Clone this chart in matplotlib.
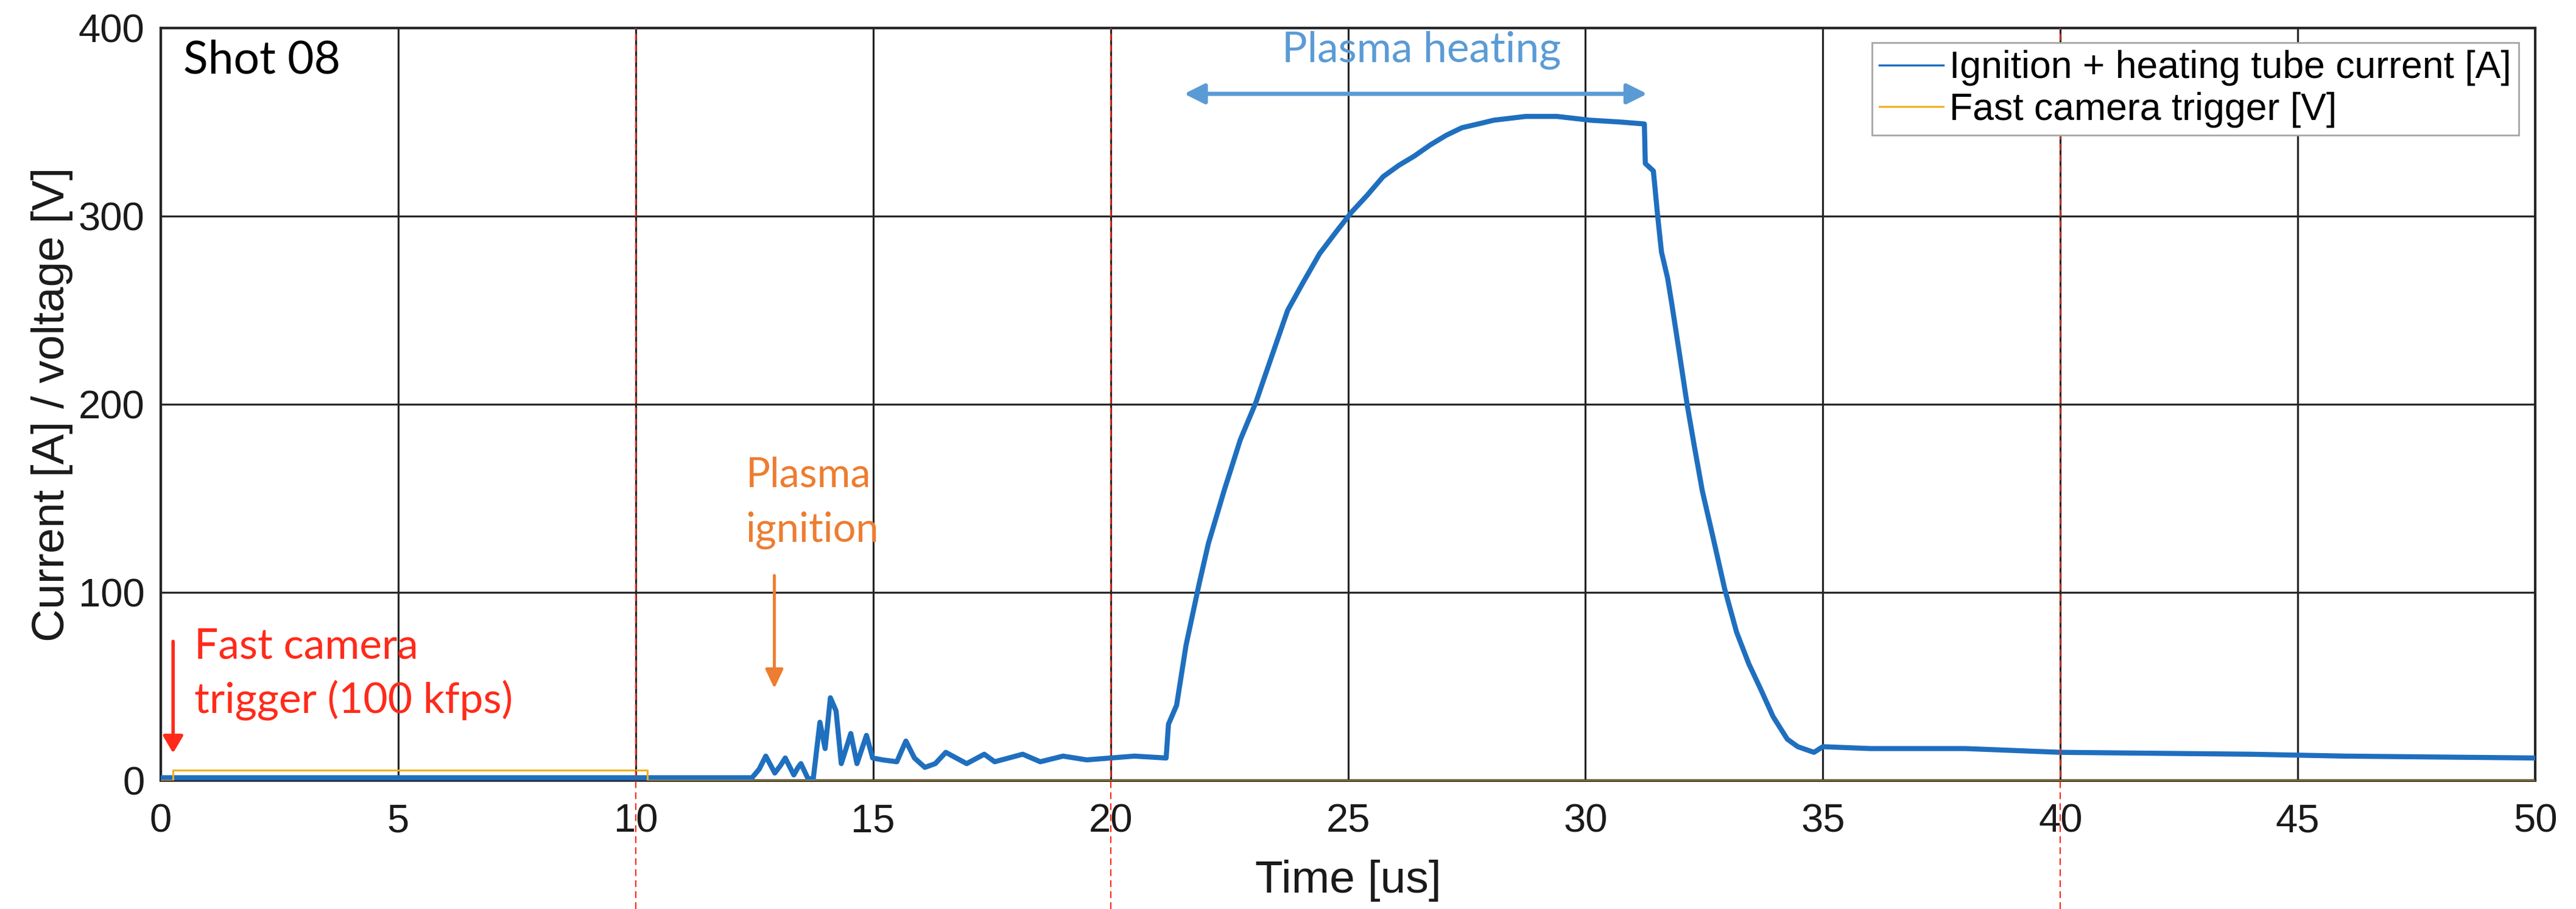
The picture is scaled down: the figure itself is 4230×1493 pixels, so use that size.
import matplotlib
matplotlib.use("Agg")
import matplotlib.pyplot as plt
from matplotlib.lines import Line2D

# Tube current trace (time in microseconds, current in amperes)
time_us = [
    0.0, 12.45, 12.6, 12.74, 12.93, 13.05, 13.15, 13.33, 13.42, 13.48, 13.63,
    13.74, 13.88, 13.99, 14.1, 14.22, 14.33, 14.53, 14.66, 14.86, 14.99, 15.2,
    15.5, 15.69, 15.87, 16.09, 16.31, 16.53, 16.75, 16.97, 17.34, 17.56, 18.15,
    18.52, 19.0, 19.5, 20.0, 20.5, 21.17, 21.22, 21.39, 21.59, 21.86, 22.06,
    22.39, 22.73, 23.06, 23.4, 23.73, 24.06, 24.4, 24.73, 25.07, 25.4, 25.74,
    26.07, 26.4, 26.74, 27.07, 27.4, 27.74, 28.07, 28.74, 29.4, 30.1, 30.75,
    31.24, 31.26, 31.43, 31.52, 31.6, 31.73, 31.82, 31.99, 32.14, 32.29, 32.46,
    32.67, 32.93, 33.18, 33.44, 33.7, 33.95, 34.25, 34.47, 34.81, 35.0, 36.0,
    38.0, 40.0, 44.0, 46.0, 50.0,
]
current_a = [
    1.5, 1.5, 6, 13, 4, 8, 12, 3, 7, 9, 1,
    1, 31, 17, 44, 37, 9, 25, 9, 24, 12, 11,
    10, 21, 12, 7, 9, 15, 12, 9, 14, 10, 14,
    10, 13, 11, 12, 13, 12, 30, 40, 72, 104, 126,
    154, 181, 201, 226, 250, 265, 280, 291, 302, 311, 321,
    327, 332, 338, 343, 347, 349, 351, 353, 353, 351, 350,
    349, 328, 324, 300, 281, 267, 253, 225, 200, 178, 154,
    131, 102, 79, 62, 48, 34, 22, 18, 15, 18, 17,
    17, 15, 14, 13, 12,
]

# Fast camera trigger pulse (time in microseconds, volts)
trigger_time_us = [0.0, 0.26, 0.26, 10.25, 10.25, 50.0]
trigger_v = [0.0, 0.0, 5.5, 5.5, 0.0, 0.0]

# Camera frame instants (100 kfps)
frame_marks_us = [10, 20, 40]

x_ticks = [0, 5, 10, 15, 20, 25, 30, 35, 40, 45, 50]
y_ticks = [0, 100, 200, 300, 400]

series_labels = ["Ignition + heating tube current [A]", "Fast camera trigger [V]"]

plt.rcParams["lines.scale_dashes"] = False
plt.rcParams["font.family"] = ["Liberation Sans", "DejaVu Sans"]

BLUE = "#1F6FBF"
YELLOW = "#EDB120"
RED = "#FF2A1A"
ORANGE = "#ED7D31"
LIGHT_BLUE = "#5B9BD5"
GRID = "#262626"
NOTE_FONT = ["Lato", "DejaVu Sans"]

fig = plt.figure(figsize=(42.30, 14.93), dpi=100)
ax = fig.add_axes([0.0624, 0.1413, 0.9218, 0.8279])

ax.plot(time_us, current_a, color=BLUE, lw=6, zorder=3,
        solid_joinstyle="round", solid_capstyle="butt")
ax.plot(trigger_time_us, trigger_v, color=YELLOW, lw=2.2, zorder=4)

ax.set_xlim(x_ticks[0], x_ticks[-1])
ax.set_ylim(y_ticks[0], y_ticks[-1])
ax.set_xticks(x_ticks)
ax.set_yticks(y_ticks)
ax.set_axisbelow(True)
ax.grid(True, color=GRID, lw=2.3)
for s in ax.spines.values():
    s.set_color(GRID)
    s.set_linewidth(3.0)

ax.tick_params(axis="both", length=0, labelsize=47, colors="#1a1a1a")
ax.tick_params(axis="x", pad=27)
ax.tick_params(axis="y", pad=19)

ax.set_xlabel("Time [us]", fontsize=54, color="#1a1a1a")
ax.set_ylabel("Current [A] / voltage [V]", fontsize=54, color="#1a1a1a")
ax.xaxis.set_label_coords(0.5, -0.105)
ax.yaxis.set_label_coords(-0.037, 0.5)

# Frame-instant markers running from the top of the plot to the page bottom
ybot = -ax.get_position().y0 / ax.get_position().height
for xm in frame_marks_us:
    ax.axvline(xm, ymin=ybot, ymax=1.0, color=RED, lw=1.6,
               dashes=(8, 5), clip_on=False, zorder=6)

# Legend
handles = [Line2D([], [], color=BLUE, lw=2.5), Line2D([], [], color=YELLOW, lw=2.2)]
leg = ax.legend(handles, series_labels, loc="upper right",
                bbox_to_anchor=(0.993, 0.9806), borderaxespad=0.0,
                fontsize=45, frameon=True, fancybox=False, framealpha=1.0,
                edgecolor="#A6A6A6", handlelength=1.68, handletextpad=0.15,
                borderpad=0.2, labelspacing=0.15)
leg.get_frame().set_linewidth(2.0)
leg.set_zorder(7)

# Annotations
ax.text(0.47, 376, "Shot 08", family=NOTE_FONT, fontsize=54, color="black",
        va="baseline", ha="left", zorder=8)

ax.text(26.55, 382, "Plasma heating", family=NOTE_FONT, fontsize=50,
        color=LIGHT_BLUE, va="baseline", ha="center", zorder=8)
ax.annotate("", xy=(31.3, 365), xytext=(21.55, 365),
            arrowprops=dict(arrowstyle="<|-|>,head_length=20,head_width=10",
                            mutation_scale=1, color=LIGHT_BLUE, lw=5,
                            shrinkA=0, shrinkB=0), zorder=8)

ax.text(12.32, 156, "Plasma", family=NOTE_FONT, fontsize=48, color=ORANGE,
        va="baseline", ha="left", zorder=8)
ax.text(12.32, 127, "ignition", family=NOTE_FONT, fontsize=48, color=ORANGE,
        va="baseline", ha="left", zorder=8)
ax.annotate("", xy=(12.92, 49), xytext=(12.92, 109),
            arrowprops=dict(arrowstyle="-|>,head_length=19,head_width=9",
                            mutation_scale=1, color=ORANGE, lw=3.5,
                            shrinkA=0, shrinkB=0), zorder=8)

ax.text(0.705, 65, "Fast camera", family=NOTE_FONT, fontsize=50, color=RED,
        va="baseline", ha="left", zorder=8)
ax.text(0.705, 36, "trigger (100 kfps)", family=NOTE_FONT, fontsize=50,
        color=RED, va="baseline", ha="left", zorder=8)
ax.annotate("", xy=(0.26, 14.6), xytext=(0.26, 74),
            arrowprops=dict(arrowstyle="-|>,head_length=17,head_width=10",
                            mutation_scale=1, color=RED, lw=4,
                            shrinkA=0, shrinkB=0), zorder=8)

fig.savefig("out.png", dpi=100, facecolor="white")
